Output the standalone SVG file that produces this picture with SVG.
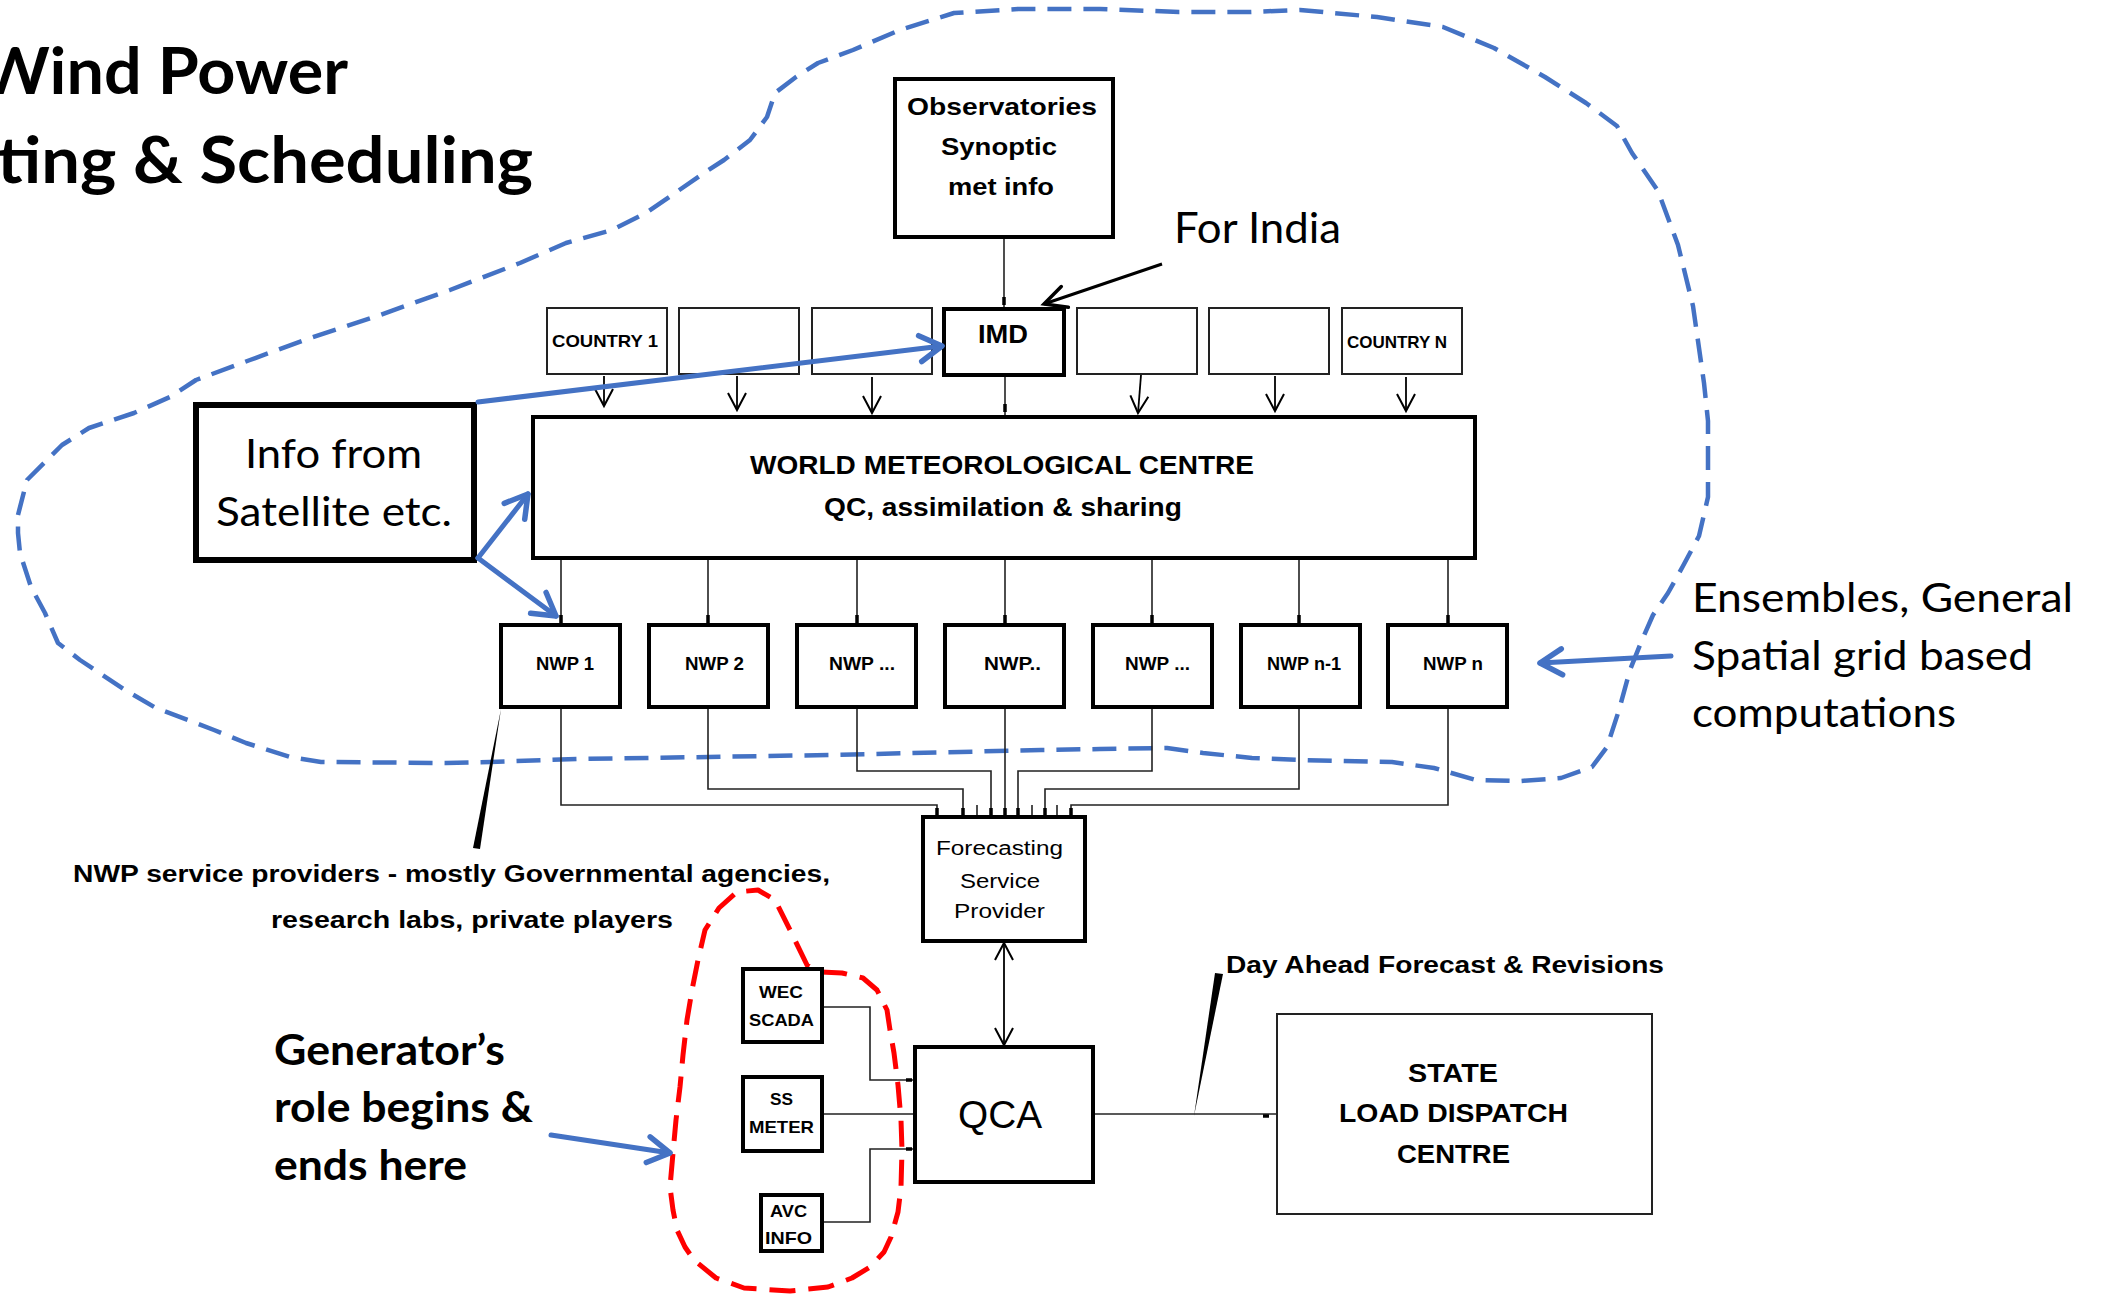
<svg xmlns="http://www.w3.org/2000/svg" width="2101" height="1297" viewBox="0 0 2101 1297">
<style>
.box{fill:#fff;stroke:#000;stroke-width:4}
.tbox{fill:#fff;stroke:#222;stroke-width:2}
.sat{fill:#fff;stroke:#000;stroke-width:6}
.ln{fill:none;stroke:#222;stroke-width:1.6}
.nub{fill:none;stroke:#000;stroke-width:3.5}
.arr{fill:none;stroke:#000;stroke-width:1.8;marker-end:url(#v)}
.blue{fill:none;stroke:#4472C4;stroke-width:5;stroke-linecap:round;marker-end:url(#bv)}
.bdash{fill:none;stroke:#4472C4;stroke-width:4.5;stroke-dasharray:24 12;stroke-linejoin:round}
.rdash{fill:none;stroke:#FF0000;stroke-width:5;stroke-dasharray:26 13;stroke-linejoin:round}
.a{font-family:"Liberation Sans",Arial,sans-serif;fill:#000}
.b{font-weight:bold}
.c{font-family:Lato,"Open Sans",sans-serif;fill:#000}
</style>
<defs>
<marker id="v" viewBox="0 0 18 20" refX="17" refY="10" markerWidth="18" markerHeight="20" markerUnits="userSpaceOnUse" orient="auto-start-reverse" overflow="visible">
<path d="M0,1 L17,10 L0,19" fill="none" stroke="#000" stroke-width="2"/>
</marker>
<marker id="kv" viewBox="0 0 26 26" refX="24" refY="13" markerWidth="26" markerHeight="26" markerUnits="userSpaceOnUse" orient="auto" overflow="visible">
<path d="M2,2 L24,13 L2,24" fill="none" stroke="#000" stroke-width="3.5" stroke-linecap="round"/>
</marker>
<marker id="bv" viewBox="0 0 30 34" refX="27" refY="17" markerWidth="30" markerHeight="34" markerUnits="userSpaceOnUse" orient="auto" overflow="visible">
<path d="M5,4 L27,17 L5,30" fill="none" stroke="#4472C4" stroke-width="5.5" stroke-linecap="round" stroke-linejoin="round"/>
</marker>
</defs>
<rect width="2101" height="1297" fill="#fff"/>

<g id="title">
<text class="c b" x="-20" y="94" font-size="65" textLength="368" lengthAdjust="spacingAndGlyphs">Wind Power</text>
<text class="c b" x="-3" y="183" font-size="65" textLength="536" lengthAdjust="spacingAndGlyphs">ting &amp; Scheduling</text>
</g>

<g id="regions">
<path class="bdash" d="M18,515 L27,480 L45,462 L62,445 L89,428 L134,413 L170,397 L196,380 L250,360 L310,338 L380,315 L450,290 L520,263 L566,243 L612,230 L646,213 L675,193 L704,173 L724,160 L750,140 L767,117 L775,93 L796,77 L818,63 L853,50 L900,30 L954,13 L1018,9 L1100,9 L1179,12 L1250,12 L1300,10 L1377,17 L1443,27 L1494,48 L1545,77 L1586,103 L1617,126 L1632,153 L1658,191 L1678,245 L1693,306 L1704,383 L1708,421 L1708,497 L1699,536 L1683,566 L1668,593 L1653,615 L1642,640 L1630,670 L1619,710 L1607,747 L1592,767 L1561,778 L1520,781 L1476,780 L1434,768 L1392,762 L1300,760 L1252,758 L1203,753 L1167,748 L1100,749 L1041,750 L831,755 L578,759 L490,762 L446,763 L321,762 L290,757 L246,743 L214,730 L188,720 L156,708 L125,690 L80,660 L58,643 L45,613 L31,587 L20,553 L18,533 Z"/>
<path class="rdash" d="M807,965 L790,930 L775,900 L758,890 L737,892 L719,908 L705,930 L698,960 L692,990 L687,1020 L683,1055 L680,1087 L676,1120 L673,1153 L670,1187 L673,1210 L677,1230 L685,1247 L694,1260 L716,1278 L744,1288 L790,1291 L828,1287 L852,1278 L870,1267 L884,1252 L891,1237 L898,1212 L901,1187 L902,1150 L901,1120 L898,1085 L894,1053 L890,1030 L887,1010 L877,990 L863,978 L842,973 L821,972 Z"/>
</g>

<g id="observatories">
<rect class="box" x="895" y="79" width="218" height="158"/>
<text class="a b" x="907" y="115" font-size="24" textLength="190" lengthAdjust="spacingAndGlyphs">Observatories</text>
<text class="a b" x="941" y="155" font-size="24" textLength="116" lengthAdjust="spacingAndGlyphs">Synoptic</text>
<text class="a b" x="948" y="195" font-size="24" textLength="106" lengthAdjust="spacingAndGlyphs">met info</text>
</g>

<g id="for-india">
<text class="c" x="1174" y="243" font-size="43" textLength="167" lengthAdjust="spacingAndGlyphs">For India</text>
</g>

<g id="country1"><rect class="tbox" x="547" y="308" width="120" height="66"/>
<text class="a b" x="552" y="347" font-size="17" textLength="106" lengthAdjust="spacingAndGlyphs">COUNTRY 1</text></g>
<g id="country2"><rect class="tbox" x="679" y="308" width="120" height="66"/></g>
<g id="country3"><rect class="tbox" x="812" y="308" width="120" height="66"/></g>
<g id="imd"><rect class="box" x="944" y="309" width="120" height="66"/>
<text class="a b" x="978" y="343" font-size="25" textLength="50" lengthAdjust="spacingAndGlyphs">IMD</text></g>
<g id="country5"><rect class="tbox" x="1077" y="308" width="120" height="66"/></g>
<g id="country6"><rect class="tbox" x="1209" y="308" width="120" height="66"/></g>
<g id="countryN"><rect class="tbox" x="1342" y="308" width="120" height="66"/>
<text class="a b" x="1347" y="348" font-size="17" textLength="100" lengthAdjust="spacingAndGlyphs">COUNTRY N</text></g>

<g id="satellite">
<rect class="sat" x="196" y="405" width="278" height="155"/>
<text class="c" x="245" y="468" font-size="40" textLength="177" lengthAdjust="spacingAndGlyphs">Info from</text>
<text class="c" x="216" y="526" font-size="40" textLength="236" lengthAdjust="spacingAndGlyphs">Satellite etc.</text>
</g>

<g id="wmc">
<rect class="box" x="533" y="417" width="942" height="141"/>
<text class="a b" x="750" y="474" font-size="26" textLength="504" lengthAdjust="spacingAndGlyphs">WORLD METEOROLOGICAL CENTRE</text>
<text class="a b" x="824" y="516" font-size="26" textLength="358" lengthAdjust="spacingAndGlyphs">QC, assimilation &amp; sharing</text>
</g>

<g id="nwp1"><rect class="box" x="501" y="625" width="119" height="82"/>
<text class="a b" x="536" y="670" font-size="18" textLength="58" lengthAdjust="spacingAndGlyphs">NWP 1</text></g>
<g id="nwp2"><rect class="box" x="649" y="625" width="119" height="82"/>
<text class="a b" x="685" y="670" font-size="18" textLength="59" lengthAdjust="spacingAndGlyphs">NWP 2</text></g>
<g id="nwp3"><rect class="box" x="797" y="625" width="119" height="82"/>
<text class="a b" x="829" y="670" font-size="18" textLength="66" lengthAdjust="spacingAndGlyphs">NWP ...</text></g>
<g id="nwp4"><rect class="box" x="945" y="625" width="119" height="82"/>
<text class="a b" x="984" y="670" font-size="18" textLength="57" lengthAdjust="spacingAndGlyphs">NWP..</text></g>
<g id="nwp5"><rect class="box" x="1093" y="625" width="119" height="82"/>
<text class="a b" x="1125" y="670" font-size="18" textLength="65" lengthAdjust="spacingAndGlyphs">NWP ...</text></g>
<g id="nwp6"><rect class="box" x="1241" y="625" width="119" height="82"/>
<text class="a b" x="1267" y="670" font-size="18" textLength="74" lengthAdjust="spacingAndGlyphs">NWP n-1</text></g>
<g id="nwp7"><rect class="box" x="1388" y="625" width="119" height="82"/>
<text class="a b" x="1423" y="670" font-size="18" textLength="60" lengthAdjust="spacingAndGlyphs">NWP n</text></g>

<g id="ensembles-note">
<text class="c" x="1692" y="612" font-size="41" textLength="381" lengthAdjust="spacingAndGlyphs">Ensembles, General</text>
<text class="c" x="1692" y="670" font-size="41" textLength="341" lengthAdjust="spacingAndGlyphs">Spatial grid based</text>
<text class="c" x="1692" y="727" font-size="41" textLength="264" lengthAdjust="spacingAndGlyphs">computations</text>
</g>

<g id="nwp-providers-note">
<text class="a b" x="73" y="882" font-size="23" textLength="757" lengthAdjust="spacingAndGlyphs">NWP service providers - mostly Governmental agencies,</text>
<text class="a b" x="271" y="928" font-size="23" textLength="402" lengthAdjust="spacingAndGlyphs">research labs, private players</text>
</g>

<g id="fsp">
<rect class="box" x="923" y="817" width="162" height="124"/>
<text class="a" x="936" y="855" font-size="20" textLength="127" lengthAdjust="spacingAndGlyphs">Forecasting</text>
<text class="a" x="960" y="888" font-size="20" textLength="80" lengthAdjust="spacingAndGlyphs">Service</text>
<text class="a" x="954" y="918" font-size="20" textLength="91" lengthAdjust="spacingAndGlyphs">Provider</text>
</g>

<g id="day-ahead-note">
<text class="a b" x="1226" y="973" font-size="23" textLength="438" lengthAdjust="spacingAndGlyphs">Day Ahead Forecast &amp; Revisions</text>
</g>

<g id="wec-scada"><rect class="box" x="743" y="969" width="79" height="73"/>
<text class="a b" x="759" y="998" font-size="17" textLength="44" lengthAdjust="spacingAndGlyphs">WEC</text>
<text class="a b" x="749" y="1026" font-size="17" textLength="65" lengthAdjust="spacingAndGlyphs">SCADA</text></g>
<g id="ss-meter"><rect class="box" x="743" y="1077" width="79" height="74"/>
<text class="a b" x="770" y="1105" font-size="17" textLength="23" lengthAdjust="spacingAndGlyphs">SS</text>
<text class="a b" x="749" y="1133" font-size="17" textLength="65" lengthAdjust="spacingAndGlyphs">METER</text></g>
<g id="avc-info"><rect class="box" x="761" y="1195" width="61" height="56"/>
<text class="a b" x="770" y="1217" font-size="17" textLength="37" lengthAdjust="spacingAndGlyphs">AVC</text>
<text class="a b" x="765" y="1244" font-size="17" textLength="47" lengthAdjust="spacingAndGlyphs">INFO</text></g>

<g id="qca">
<rect class="box" x="915" y="1047" width="178" height="135"/>
<text class="a" x="958" y="1128" font-size="39" textLength="84" lengthAdjust="spacingAndGlyphs">QCA</text>
</g>

<g id="sldc">
<rect class="tbox" x="1277" y="1014" width="375" height="200"/>
<text class="a b" x="1408" y="1082" font-size="25" textLength="90" lengthAdjust="spacingAndGlyphs">STATE</text>
<text class="a b" x="1339" y="1122" font-size="25" textLength="229" lengthAdjust="spacingAndGlyphs">LOAD DISPATCH</text>
<text class="a b" x="1397" y="1163" font-size="25" textLength="113" lengthAdjust="spacingAndGlyphs">CENTRE</text>
</g>

<g id="generator-note">
<text class="c b" x="274" y="1065" font-size="42" textLength="231" lengthAdjust="spacingAndGlyphs">Generator’s</text>
<text class="c b" x="274" y="1122" font-size="42" textLength="259" lengthAdjust="spacingAndGlyphs">role begins &amp;</text>
<text class="c b" x="274" y="1180" font-size="42" textLength="193" lengthAdjust="spacingAndGlyphs">ends here</text>
</g>

<g id="connectors">
<path class="ln" d="M1004,239 V307"/>
<path class="nub" d="M1004,297 V305"/>
<path class="ln" d="M1005,377 V415"/>
<path class="nub" d="M1005,404 V412"/>
<path class="arr" d="M604,376 V406"/>
<path class="arr" d="M737,376 V410"/>
<path class="arr" d="M872,377 V413"/>
<path class="arr" d="M1141,375 L1138,413"/>
<path class="arr" d="M1275,376 V411"/>
<path class="arr" d="M1406,377 V411"/>
<path d="M1162,264 L1044,304" fill="none" stroke="#000" stroke-width="3" marker-end="url(#kv)"/>
<path class="ln" d="M561,560 V623 M708,560 V623 M857,560 V623 M1005,560 V623 M1152,560 V623 M1299,560 V623 M1448,560 V623"/>
<path class="nub" d="M561,615 V623 M708,615 V623 M857,615 V623 M1005,615 V623 M1152,615 V623 M1299,615 V623 M1448,615 V623"/>
<path class="ln" d="M561,709 V805 H937 V815 M708,709 V789 H963 V815 M857,709 V771 H991 V815 M1005,709 V815 M1152,709 V771 H1018 V815 M1299,709 V789 H1045 V815 M1448,709 V805 H1071 V815 M977,805 V815 M1032,805 V815 M1057,805 V815"/>
<path class="nub" d="M937,808 V815 M963,808 V815 M991,808 V815 M1005,808 V815 M1018,808 V815 M1045,808 V815 M1071,808 V815"/>
<path d="M1004,943 V1045" fill="none" stroke="#000" stroke-width="1.8" marker-start="url(#v)" marker-end="url(#v)"/>
<path class="ln" d="M824,1007 H870 V1080 H913 M824,1114 H913 M824,1222 H870 V1149 H913"/>
<path class="nub" d="M906,1080 H912 M906,1149 H912"/>
<path class="ln" d="M1095,1114 H1276"/>
<path class="nub" d="M1263,1116 H1269"/>
<polygon points="1194,1116 1215,973 1223,974" fill="#000"/>
<polygon points="501,709 480,849 473,848" fill="#000"/>
<path class="blue" d="M478,402 L942,346"/>
<path class="blue" d="M478,558 L528,494"/>
<path class="blue" d="M478,558 L556,616"/>
<path class="blue" d="M1671,656 L1540,663"/>
<path class="blue" d="M551,1135 L670,1153"/>
</g>
</svg>
